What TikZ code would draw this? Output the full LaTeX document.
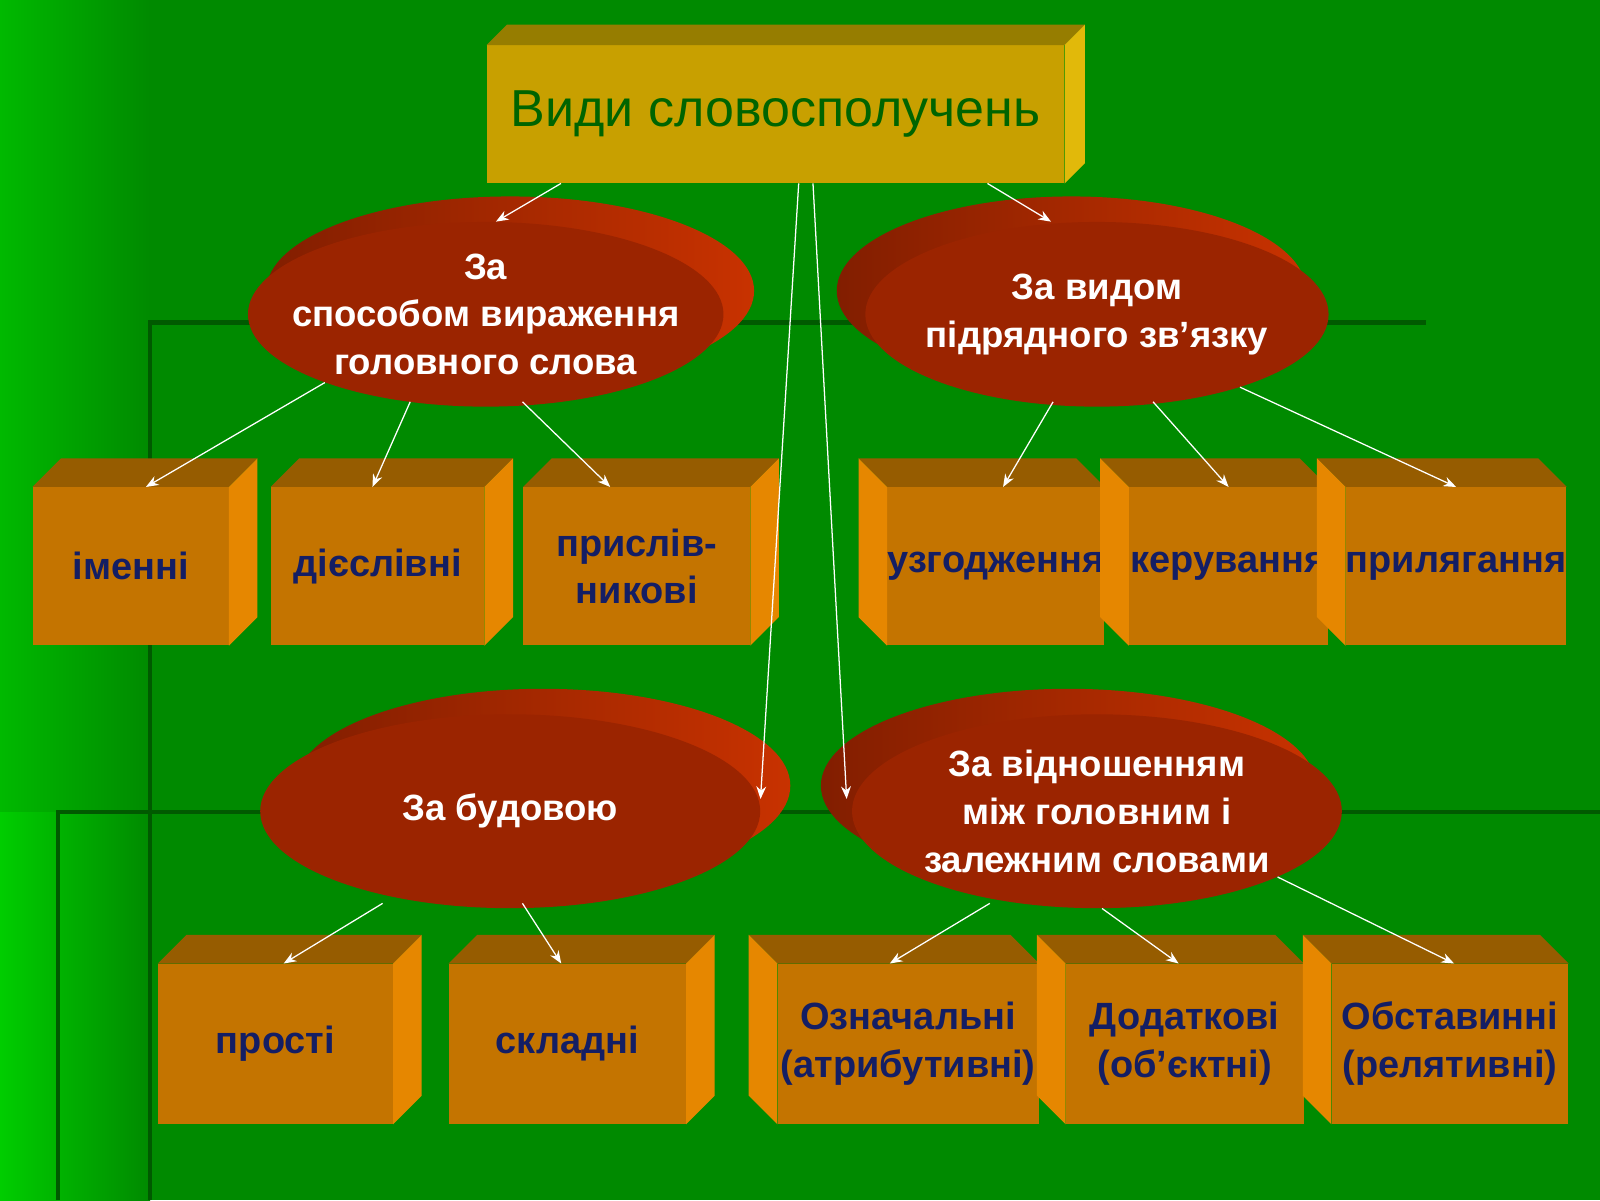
\documentclass[tikz,border=0pt]{standalone}
\usepackage{fontspec}
\setmainfont{Liberation Sans}
\usetikzlibrary{shapes.geometric,calc,arrows.meta}
\newdimen\px \px=0.02551cm
\definecolor{bggreen}{RGB}{0,138,0}
\definecolor{litegreen}{RGB}{0,205,0}
\definecolor{darkline}{RGB}{0,90,0}
\definecolor{boxfront}{RGB}{196,116,0}
\definecolor{boxtop}{RGB}{150,92,0}
\definecolor{boxside}{RGB}{230,135,0}
\definecolor{goldfront}{RGB}{200,160,0}
\definecolor{goldtop}{RGB}{150,125,0}
\definecolor{goldside}{RGB}{225,185,10}
\definecolor{ellfront}{RGB}{155,36,0}
\definecolor{ellback}{RGB}{130,30,0}
\definecolor{ellrim}{RGB}{200,50,0}
\definecolor{navytext}{RGB}{20,30,100}
\definecolor{titletext}{RGB}{0,100,0}
\tikzset{
  cubefront/.style={fill=boxfront, inner sep=0pt, align=center, font=\bfseries\fontsize{27}{34}\selectfont, text=navytext},
  cubesmall/.style={font=\bfseries\fontsize{25}{32}\selectfont},
  cubetop/.style={fill=boxtop},
  cubeside/.style={fill=boxside},
  ellfr/.style={ellipse, fill=ellfront, inner sep=0pt},
  elltext/.style={align=center, text=white, font=\bfseries\fontsize{26}{34}\selectfont},
  ellbk/.style={ellipse, left color=ellback, right color=ellrim, inner sep=0pt},
  arr/.style={-{Stealth[length=9pt,width=7pt]}, white, line width=0.9pt}
}
% cube with depth to the right: name, center, width, height, text
\newcommand\cubeR[5]{%
  \node[cubefront, minimum width=#3\px, minimum height=#4\px] (#1) at #2 {#5};
  \fill[cubetop] (#1.north west) -- ++(28,-28) -- ($(#1.north east)+(28,-28)$) -- (#1.north east) -- cycle;
  \fill[cubeside] (#1.north east) -- ++(28,-28) -- ($(#1.south east)+(28,-28)$) -- (#1.south east) -- cycle;}
% cube with depth to the left
\newcommand\cubeL[5]{%
  \node[cubefront, minimum width=#3\px, minimum height=#4\px] (#1) at #2 {#5};
  \fill[cubetop] (#1.north east) -- ++(-28,-28) -- ($(#1.north west)+(-28,-28)$) -- (#1.north west) -- cycle;
  \fill[cubeside] (#1.north west) -- ++(-28,-28) -- ($(#1.south west)+(-28,-28)$) -- (#1.south west) -- cycle;}
\begin{document}
\begin{tikzpicture}[x=0.02551cm, y=-0.02551cm]
  \useasboundingbox (0,0) rectangle (1568,1176);
  % background
  \fill[bggreen] (0,0) rectangle (1568,1176);
  \fill[left color=litegreen, right color=bggreen] (0,795) rectangle (147,1176);
  \fill[left color=litegreen!70!bggreen, right color=bggreen] (0,0) rectangle (147,795);
  \draw[darkline, line width=3pt] (147,1176) -- (147,316) -- (1397,316);
  \draw[darkline, line width=3pt] (57,1176) -- (57,796) -- (1568,796);
  % title
  \node[fill=goldfront, minimum width=566\px, minimum height=135\px, inner sep=0pt,
        text=titletext, font=\fontsize{37}{42}\selectfont] (title) at (760,112) {Види словосполучень};
  \fill[goldtop] (title.north west) -- ++(20,-20) -- ($(title.north east)+(20,-20)$) -- (title.north east) -- cycle;
  \fill[goldside] (title.north east) -- ++(20,-20) -- ($(title.south east)+(20,-20)$) -- (title.south east) -- cycle;
  % ellipses
  \node[ellbk, minimum width=478\px, minimum height=185\px] at (500,285) {};
  \node[ellfr, minimum width=466\px, minimum height=181\px] (e1) at (476,308) {};
  \node[elltext] (t1) at (e1) {За\\способом вираження\\головного слова};
  \node[ellbk, minimum width=460\px, minimum height=185\px] at (1050,285) {};
  \node[ellfr, minimum width=454\px, minimum height=181\px] (e2) at (1075,308) {};
  \node[elltext] (t2) at (e2) {За видом\\підрядного зв'язку};
  \node[ellbk, minimum width=485\px, minimum height=190\px] at (532,770) {};
  \node[ellfr, minimum width=490\px, minimum height=190\px] (e3) at (500,795) {};
  \node[elltext] (t3) at (e3) {За будовою};
  \node[ellbk, minimum width=485\px, minimum height=190\px] at (1047,770) {};
  \node[ellfr, minimum width=480\px, minimum height=190\px] (e4) at (1075,795) {};
  \node[elltext] (t4) at (e4) {За відношенням\\між головним і\\залежним словами};
  % row 1
  \cubeR{imen}{(128,555)}{192}{155}{іменні}
  \cubeR{diesl}{(370,555)}{209}{155}{дієслівні}
  \cubeR{prysl}{(624,555)}{222}{155}{прислів-\\никові}
  \cubeL{uzgod}{(976,555)}{207}{155}{\tikzset{cubesmall}узгодження}
  \cubeL{keruv}{(1204,555)}{195}{155}{керування}
  \cubeL{prylyah}{(1427,555)}{195}{155}{прилягання}
  % row 2
  \cubeR{prosti}{(270,1023)}{230}{157}{прості}
  \cubeR{skladni}{(556,1023)}{232}{157}{складні}
  \cubeL{oznach}{(890,1023)}{256}{157}{Означальні\\(атрибутивні)}
  \cubeL{dodatk}{(1161,1023)}{233}{157}{Додаткові\\(об'єктні)}
  \cubeL{obstav}{(1421,1023)}{232}{157}{Обставинні\\(релятивні)}
  % arrows
  \draw[arr] ($(title.south west)+(73,0)$) -- ($(e1.north)+(10,0)$);
  \draw[arr] ($(title.south west)+(491,0)$) -- ($(e2.north)+(-45,0)$);
  \draw[arr] ($(title.south west)+(306,0)$) -- ($(e3.east)+(0,-12)$);
  \draw[arr] ($(title.south west)+(320,0)$) -- ($(e4.west)+(-5,-12)$);
  \draw[arr] (e1.203) -- ($(imen.north)+(15,0)$);
  \draw[arr] ($(e1.south)+(-74,-5)$) -- ($(diesl.north)+(-5,0)$);
  \draw[arr] ($(e1.south)+(36,-5)$) -- ($(prysl.north)+(-26,0)$);
  \draw[arr] ($(e2.south)+(-43,-5)$) -- ($(uzgod.north)+(7,0)$);
  \draw[arr] ($(e2.south)+(55,-5)$) -- (keruv.north);
  \draw[arr] (e2.-27) -- (prylyah.north);
  \draw[arr] ($(e3.south)+(-125,-5)$) -- ($(prosti.north)+(8,0)$);
  \draw[arr] ($(e3.south)+(12,-5)$) -- ($(skladni.north)+(-6,0)$);
  \draw[arr] ($(e4.south)+(-105,-5)$) -- ($(oznach.north)+(-18,0)$);
  \draw[arr] ($(e4.south)+(5,0)$) -- ($(dodatk.north)+(-6,0)$);
  \draw[arr] (e4.-20) -- ($(obstav.north)+(4,0)$);
\end{tikzpicture}
\end{document}
